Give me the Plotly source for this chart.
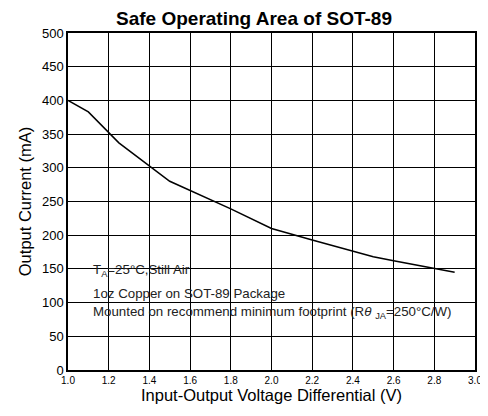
import plotly.graph_objects as go

# Safe operating area curve
voltage = [1.0, 1.1, 1.25, 1.5, 1.8, 2.0, 2.2, 2.4, 2.5, 2.6, 2.8, 2.9]
current = [400, 383, 337, 280, 239, 210, 193, 176, 168, 162, 150, 145]

x_ticks = [1.0, 1.2, 1.4, 1.6, 1.8, 2.0, 2.2, 2.4, 2.6, 2.8, 3.0]
y_ticks = [0, 50, 100, 150, 200, 250, 300, 350, 400, 450, 500]

notes = [
    "T<sub>A</sub>=25°C,Still Air",
    "1oz Copper on SOT-89 Package",
    "Mounted on recommend minimum footprint (R<i>θ</i> <sub>JA</sub>=250°C/W)",
]
note_y = [148, 113, 85]

FONT = "Liberation Sans, Arial"

fig = go.Figure()
fig.add_trace(go.Scatter(x=voltage, y=current, mode="lines",
                         line=dict(color="black", width=1.5), showlegend=False))

for txt, yy in zip(notes, note_y):
    fig.add_annotation(x=1.115, y=yy, text=txt, showarrow=False,
                       xanchor="left", yanchor="middle",
                       font=dict(family=FONT, size=13.3, color="#222"))

# page body has an 8px margin, so the figure is shrunk by that much
fig.update_layout(
    width=480, height=408,
    margin=dict(l=60, r=6, t=25, b=46),
    paper_bgcolor="white", plot_bgcolor="white",
    title=dict(text="<b>Safe Operating Area of SOT-89</b>", x=0.5125, xanchor="center",
               y=0.99, yanchor="top",
               font=dict(family=FONT, size=19, color="black")),
    font=dict(family=FONT, color="black"),
)
fig.update_xaxes(range=[x_ticks[0], x_ticks[-1]], tickvals=x_ticks,
                 ticktext=[f"{v:.1f}" for v in x_ticks],
                 showgrid=True, gridcolor="black", gridwidth=1,
                 showline=True, linecolor="black", linewidth=1.5, mirror=True,
                 tickfont=dict(size=10),
                 title=dict(text="Input-Output Voltage Differential (V)", font=dict(size=16.5), standoff=2),
                 zeroline=False)
fig.update_yaxes(range=[y_ticks[0], y_ticks[-1]], tickvals=y_ticks,
                 showgrid=True, gridcolor="black", gridwidth=1,
                 showline=True, linecolor="black", linewidth=1.5, mirror=True,
                 tickfont=dict(size=13),
                 title=dict(text="Output Current (mA)", font=dict(size=16.5), standoff=6),
                 zeroline=False)

fig.write_html("out.html")
